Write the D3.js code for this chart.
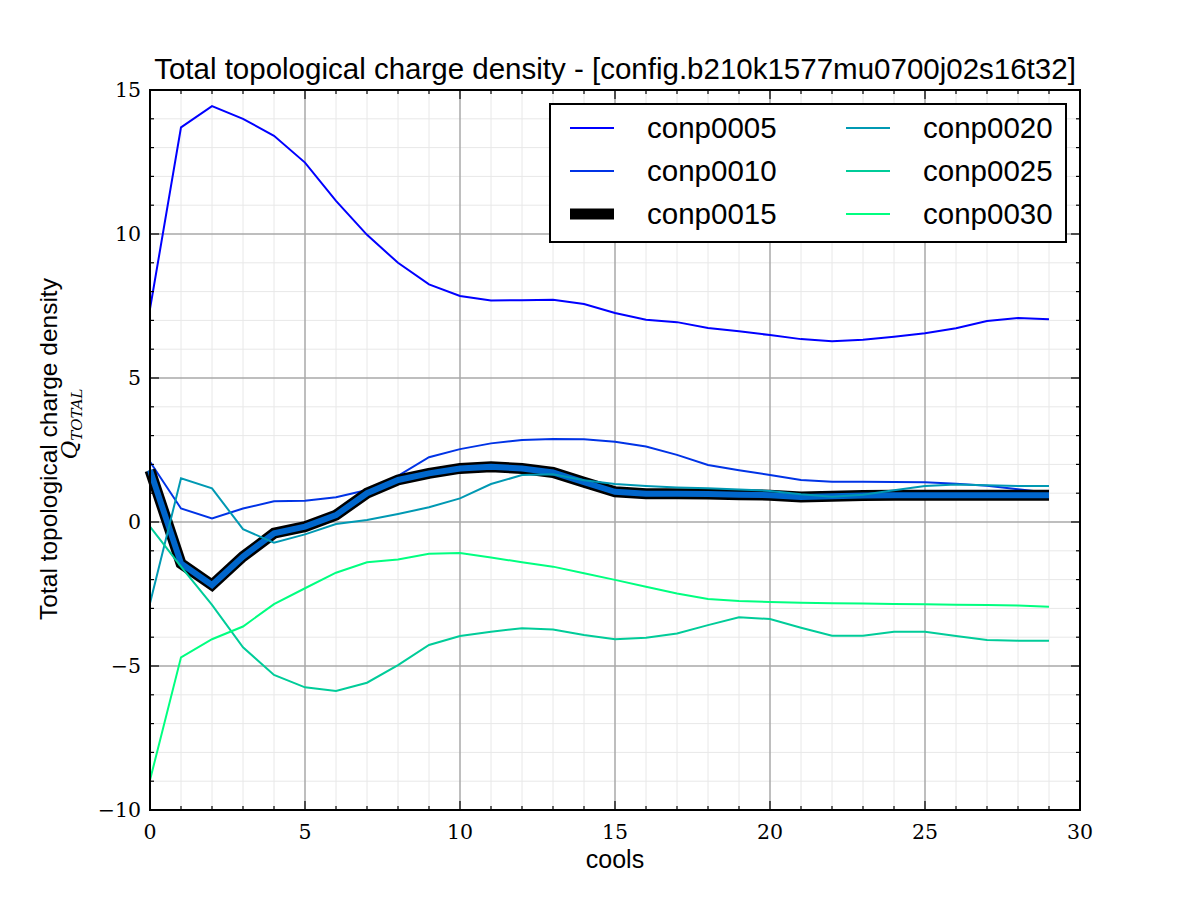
<!DOCTYPE html>
<html>
<head>
<meta charset="utf-8">
<script src="https://cdnjs.cloudflare.com/ajax/libs/d3/7.8.5/d3.min.js"></script>
<style>
  body { margin: 0; background: #fff; }
  text { fill: #000; }
</style>
</head>
<body>
<div id="container"></div>
<script>
/**
 * DATA
 * */
const cools = d3.range(0, 30);

const conp0005 = [7.4, 13.7, 14.44, 14.0, 13.41, 12.48, 11.15, 9.97, 9.0, 8.25,
  7.85, 7.69, 7.7, 7.72, 7.57, 7.26, 7.02, 6.94, 6.74, 6.62, 6.49, 6.35, 6.28, 6.33,
  6.43, 6.55, 6.73, 6.98, 7.08, 7.04];
const conp0010 = [2.09, 0.47, 0.12, 0.47, 0.72, 0.74, 0.86, 1.11, 1.6, 2.25,
  2.53, 2.73, 2.85, 2.88, 2.87, 2.79, 2.62, 2.33, 1.98, 1.8, 1.63, 1.46, 1.4, 1.4,
  1.39, 1.38, 1.33, 1.26, 1.14, 1.02];
const conp0015 = [1.8, -1.44, -2.19, -1.2, -0.39, -0.16, 0.24, 1.0, 1.46, 1.69,
  1.86, 1.92, 1.86, 1.72, 1.38, 1.05, 0.98, 0.98, 0.97, 0.95, 0.93, 0.87, 0.89, 0.92,
  0.93, 0.93, 0.93, 0.93, 0.93, 0.93];
const conp0020 = [-2.82, 1.52, 1.17, -0.25, -0.72, -0.43, -0.07, 0.07, 0.28, 0.51,
  0.82, 1.32, 1.63, 1.66, 1.45, 1.32, 1.25, 1.2, 1.17, 1.13, 1.08, 0.96, 0.88, 0.95,
  1.1, 1.25, 1.3, 1.28, 1.25, 1.25];
const conp0025 = [-0.16, -1.55, -2.88, -4.35, -5.31, -5.74, -5.87, -5.58, -4.97, -4.27,
  -3.96, -3.81, -3.69, -3.73, -3.92, -4.07, -4.02, -3.87, -3.58, -3.31, -3.37, -3.67,
  -3.95, -3.95, -3.81, -3.81, -3.96, -4.1, -4.12, -4.12];
const conp0030 = [-8.96, -4.7, -4.07, -3.63, -2.85, -2.3, -1.76, -1.4, -1.3, -1.1,
  -1.08, -1.23, -1.4, -1.55, -1.78, -2.01, -2.25, -2.48, -2.67, -2.74, -2.78, -2.8,
  -2.82, -2.83, -2.85, -2.86, -2.87, -2.88, -2.9, -2.94];

const seriesNames = ["conp0005", "conp0010", "conp0015", "conp0020", "conp0025", "conp0030"];
const seriesValues = [conp0005, conp0010, conp0015, conp0020, conp0025, conp0030];
const seriesColors = ["#0000ff", "#0033e6", "#0066cc", "#0099b3", "#00cc99", "#00ff80"];

const xTicks = [0, 5, 10, 15, 20, 25, 30];
const yTicks = [-10, -5, 0, 5, 10, 15];

const titleText = "Total topological charge density - [config.b210k1577mu0700j02s16t32]";
const xLabel = "cools";
const yLabel = "Total topological charge density";

/**
 * LAYOUT
 * */
const width = 1200, height = 900;
const margin = { top: 90, right: 120, bottom: 90, left: 150 };

const svg = d3.select("#container").append("svg")
  .attr("width", width)
  .attr("height", height);

const xScale = d3.scaleLinear().domain([0, 30]).range([margin.left, width - margin.right]);
const yScale = d3.scaleLinear().domain([-10, 15]).range([height - margin.bottom, margin.top]);

const x0 = xScale.range()[0], x1 = xScale.range()[1];
const yTop = yScale.range()[1], yBot = yScale.range()[0];

// minor grid
const g = svg.append("g");
g.selectAll("line.minx")
  .data(d3.range(1, 30).filter(d => d % 5 !== 0))
  .join("line")
  .attr("x1", d => xScale(d)).attr("x2", d => xScale(d))
  .attr("y1", yTop).attr("y2", yBot)
  .attr("stroke", "#e8e8e8").attr("stroke-width", 1);
g.selectAll("line.miny")
  .data(d3.range(-9, 15).filter(d => d % 5 !== 0))
  .join("line")
  .attr("y1", d => yScale(d)).attr("y2", d => yScale(d))
  .attr("x1", x0).attr("x2", x1)
  .attr("stroke", "#e8e8e8").attr("stroke-width", 1);

// major grid
svg.append("g").selectAll("line")
  .data(xTicks.slice(1, -1))
  .join("line")
  .attr("x1", d => xScale(d)).attr("x2", d => xScale(d))
  .attr("y1", yTop).attr("y2", yBot)
  .attr("stroke", "#a8a8a8").attr("stroke-width", 1.5);
svg.append("g").selectAll("line")
  .data(yTicks.slice(1, -1))
  .join("line")
  .attr("y1", d => yScale(d)).attr("y2", d => yScale(d))
  .attr("x1", x0).attr("x2", x1)
  .attr("stroke", "#a8a8a8").attr("stroke-width", 1.5);

// lines
const line = d3.line().x((d, i) => xScale(cools[i])).y(d => yScale(d));
const lines = svg.append("g");
seriesValues.forEach((vals, k) => {
  if (seriesNames[k] === "conp0015") {
    lines.append("path")
      .attr("d", line(vals))
      .attr("fill", "none")
      .attr("stroke", "#000")
      .attr("stroke-width", 11)
      .attr("stroke-linejoin", "miter")
      .attr("stroke-linecap", "butt");
    lines.append("path")
      .attr("d", line(vals))
      .attr("fill", "none")
      .attr("stroke", seriesColors[k])
      .attr("stroke-width", 6)
      .attr("stroke-linecap", "butt");
  } else {
    lines.append("path")
      .attr("d", line(vals))
      .attr("fill", "none")
      .attr("stroke", seriesColors[k])
      .attr("stroke-width", 2);
  }
});

// ticks (inward on all four sides)
const ticks = svg.append("g").attr("stroke", "#000");
d3.range(0, 31).forEach(d => {
  const len = d % 5 === 0 ? 9 : 4;
  ticks.append("line").attr("x1", xScale(d)).attr("x2", xScale(d))
    .attr("y1", yBot).attr("y2", yBot - len).attr("stroke-width", 1.2);
  ticks.append("line").attr("x1", xScale(d)).attr("x2", xScale(d))
    .attr("y1", yTop).attr("y2", yTop + len).attr("stroke-width", 1.2);
});
d3.range(-10, 16).forEach(d => {
  const len = d % 5 === 0 ? 9 : 4;
  ticks.append("line").attr("y1", yScale(d)).attr("y2", yScale(d))
    .attr("x1", x0).attr("x2", x0 + len).attr("stroke-width", 1.2);
  ticks.append("line").attr("y1", yScale(d)).attr("y2", yScale(d))
    .attr("x1", x1).attr("x2", x1 - len).attr("stroke-width", 1.2);
});

// frame
svg.append("rect")
  .attr("x", x0).attr("y", yTop)
  .attr("width", x1 - x0).attr("height", yBot - yTop)
  .attr("fill", "none").attr("stroke", "#000").attr("stroke-width", 2);

// tick labels
const fmt = d => (d < 0 ? "\u2212" + Math.abs(d) : String(d));
svg.append("g").selectAll("text")
  .data(xTicks)
  .join("text")
  .attr("x", d => xScale(d)).attr("y", yBot + 29)
  .attr("text-anchor", "middle")
  .style("font-family", "'DejaVu Serif', serif")
  .style("font-size", "20.5px")
  .text(fmt);
svg.append("g").selectAll("text")
  .data(yTicks)
  .join("text")
  .attr("x", x0 - 9).attr("y", d => yScale(d) + 7)
  .attr("text-anchor", "end")
  .style("font-family", "'DejaVu Serif', serif")
  .style("font-size", "20.5px")
  .text(fmt);

// title and axis labels
svg.append("text")
  .attr("x", (x0 + x1) / 2).attr("y", 79)
  .attr("text-anchor", "middle")
  .style("font-family", "'Liberation Sans', Arial, sans-serif")
  .style("font-size", "29.5px")
  .text(titleText);

svg.append("text")
  .attr("x", (x0 + x1) / 2).attr("y", 868)
  .attr("text-anchor", "middle")
  .style("font-family", "'Liberation Sans', Arial, sans-serif")
  .style("font-size", "25px")
  .text(xLabel);

const yl = svg.append("g")
  .attr("transform", `translate(57, ${(yTop + yBot) / 2 - 1}) rotate(-90)`);
yl.append("text")
  .attr("x", 0).attr("y", 0)
  .attr("text-anchor", "middle")
  .style("font-family", "'Liberation Sans', Arial, sans-serif")
  .style("font-size", "24.5px")
  .text(yLabel);
const q = yl.append("text")
  .attr("x", 25).attr("y", 20)
  .attr("text-anchor", "middle")
  .style("font-family", "'DejaVu Serif', serif")
  .style("font-style", "italic")
  .style("font-size", "23px");
q.append("tspan").text("Q");
q.append("tspan").attr("dy", 5).style("font-size", "15px").text("TOTAL");

// legend
const lg = svg.append("g");
lg.append("rect")
  .attr("x", 550).attr("y", 104)
  .attr("width", 516).attr("height", 138)
  .attr("fill", "#fff").attr("stroke", "#000").attr("stroke-width", 2);
seriesNames.forEach((name, k) => {
  const col = Math.floor(k / 3), row = k % 3;
  const lx = 570 + col * 276, ly = 128 + row * 43;
  lg.append("line")
    .attr("x1", lx).attr("x2", lx + 44)
    .attr("y1", ly).attr("y2", ly)
    .attr("stroke", name === "conp0015" ? "#000" : seriesColors[k])
    .attr("stroke-width", name === "conp0015" ? 11 : 2);
  lg.append("text")
    .attr("x", lx + 77).attr("y", ly + 10)
    .style("font-family", "'Liberation Sans', Arial, sans-serif")
    .style("font-size", "29.5px")
    .text(name);
});
</script>
</body>
</html>
